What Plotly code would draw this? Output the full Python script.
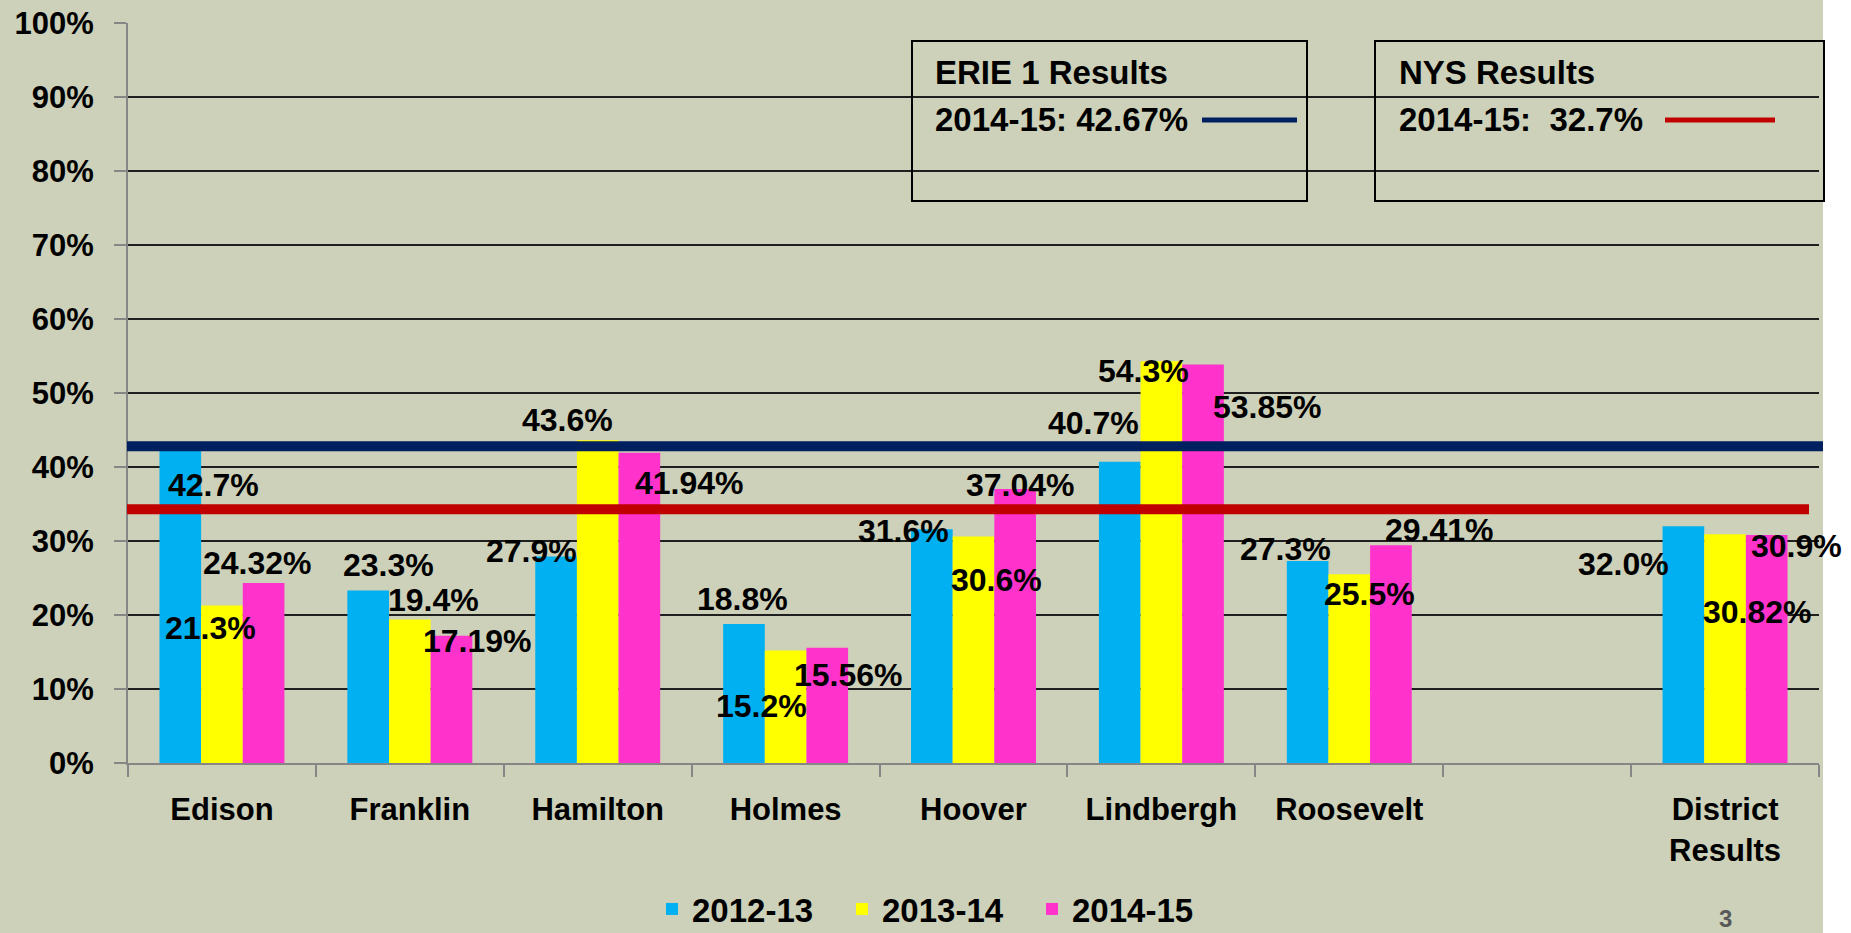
import plotly.graph_objects as go

# ---------------- data ----------------
categories = ["Edison", "Franklin", "Hamilton", "Holmes", "Hoover",
              "Lindbergh", "Roosevelt", " ", "District<br>Results"]
series_names = ["2012-13", "2013-14", "2014-15"]
vals_2012_13 = [42.7, 23.3, 27.9, 18.8, 31.6, 40.7, 27.3, None, 32.0]
vals_2013_14 = [21.3, 19.4, 43.6, 15.2, 30.6, 54.3, 25.5, None, 30.9]
vals_2014_15 = [24.32, 17.19, 41.94, 15.56, 37.04, 53.85, 29.41, None, 30.82]
label_decimals = [1, 1, 2]

y_tick_values = [0, 10, 20, 30, 40, 50, 60, 70, 80, 90, 100]
y_tick_text = [f"{v}%" for v in y_tick_values]

erie_title = "ERIE 1 Results"
erie_text = "2014-15: 42.67%"
erie_level = 42.8      # where the ERIE line is drawn in the picture
nys_title = "NYS Results"
nys_text = "2014-15:\u00a0\u00a032.7%"
nys_level = 34.3       # where the NYS line is drawn in the picture
page_number = "3"

# ---------------- styles / positions ----------------
colors = ["#00B0F0", "#FFFF00", "#FF33CC"]
BG = "#CDD1B9"
FONT = "Liberation Sans, Arial, sans-serif"

# data label offsets (pixels) from the top-centre of each category
label_dx = [
    [-8, -21, -66, -43, -70, -68, -64, None, -102],
    [-11, 24, -30, -24, 23, -18, 20, None, 71],
    [36, 68, 92, 63, 47, 106, 90, None, 32],
]
label_dy = [
    [-38, 26, 6, 25, -2, 39, 12, None, -38],
    [-23, 19, 20, -55, -43, -10, -20, None, -12],
    [20, -5, -30, -27, 4, -42, 15, None, -77],
]

W, H = 1851, 933
L, T, R, B = 128, 23, 32, 170
PW = W - L - R
PH = H - T - B


def px_x(x):
    return (x - L) / PW


def px_y(y):
    return (T + PH - y) / PH


def bold(size, color="black", family=FONT):
    return dict(family=family, size=size, color=color, weight="bold")


series_vals = [vals_2012_13, vals_2013_14, vals_2014_15]

fig = go.Figure()
for name, vals, col in zip(series_names, series_vals, colors):
    fig.add_trace(go.Bar(x=categories, y=vals, name=name,
                         marker=dict(color=col, line=dict(width=0)),
                         hoverinfo="skip"))

annotations = []
for s, vals in enumerate(series_vals):
    for i, v in enumerate(vals):
        if v is None:
            continue
        annotations.append(dict(
            x=categories[i], y=v, xref="x", yref="y",
            xshift=label_dx[s][i], yshift=label_dy[s][i],
            text=f"{v:.{label_decimals[s]}f}%", showarrow=False,
            xanchor="center", yanchor="middle", font=bold(32)))

# text boxes
for tx, ty, txt in [(933, 73, erie_title), (933, 119, erie_text),
                    (1397, 73, nys_title), (1397, 119, nys_text)]:
    annotations.append(dict(x=px_x(tx), y=px_y(ty), xref="paper", yref="paper",
                            text=txt, showarrow=False, xanchor="left",
                            yanchor="middle", font=bold(33)))

annotations.append(dict(x=px_x(1725), y=px_y(918), xref="paper", yref="paper",
                        text=page_number, showarrow=False, xanchor="center",
                        yanchor="middle",
                        font=dict(family=FONT, size=24, color="#595959")))

shapes = [
    # white strip beyond the slide on the right
    dict(type="rect", xref="paper", yref="paper", x0=px_x(1823), x1=px_x(1900),
         y0=px_y(960), y1=px_y(-20), fillcolor="white", line=dict(width=0),
         layer="above"),
    # reference lines
    dict(type="line", xref="paper", yref="y", x0=px_x(127), x1=px_x(1823),
         y0=erie_level, y1=erie_level, line=dict(color="#002060", width=10),
         layer="above"),
    dict(type="line", xref="paper", yref="y", x0=px_x(127), x1=px_x(1809),
         y0=nys_level, y1=nys_level, line=dict(color="#C00000", width=10),
         layer="above"),
    # boxes
    dict(type="rect", xref="paper", yref="paper", x0=px_x(912), x1=px_x(1307),
         y0=px_y(201), y1=px_y(41), line=dict(color="black", width=2),
         fillcolor="rgba(0,0,0,0)", layer="above"),
    dict(type="rect", xref="paper", yref="paper", x0=px_x(1375), x1=px_x(1824),
         y0=px_y(201), y1=px_y(41), line=dict(color="black", width=2),
         fillcolor="rgba(0,0,0,0)", layer="above"),
    # legend lines inside boxes
    dict(type="line", xref="paper", yref="paper", x0=px_x(1202), x1=px_x(1297),
         y0=px_y(120), y1=px_y(120), line=dict(color="#002060", width=5),
         layer="above"),
    dict(type="line", xref="paper", yref="paper", x0=px_x(1665), x1=px_x(1775),
         y0=px_y(120), y1=px_y(120), line=dict(color="#C00000", width=5),
         layer="above"),
]

fig.update_layout(
    width=W, height=H,
    margin=dict(l=L, r=R, t=T, b=B, pad=0, autoexpand=False),
    paper_bgcolor=BG, plot_bgcolor=BG,
    barmode="group", bargap=0.335, bargroupgap=0,
    font=bold(31),
    showlegend=True,
    legend=dict(orientation="h", xref="container", yref="container",
                x=652 / W, y=1 - 909 / H, xanchor="left", yanchor="middle",
                bgcolor="rgba(0,0,0,0)", font=bold(33),
                entrywidth=145, traceorder="normal"),
    annotations=annotations,
    shapes=shapes,
    hovermode=False,
)

fig.update_yaxes(range=[0, 100], tickmode="array", tickvals=y_tick_values,
                 ticktext=y_tick_text, automargin=False,
                 showgrid=True, gridcolor="#1f1f1f", gridwidth=2,
                 zeroline=False, showline=True, linecolor="#868686",
                 linewidth=2, ticks="outside", ticklen=12, tickcolor="#868686",
                 tickwidth=2, ticklabelstandoff=14, tickfont=bold(31))
fig.update_xaxes(type="category", categoryorder="array", categoryarray=categories,
                 range=[-0.5, len(categories) - 0.5],
                 tickson="boundaries", ticks="outside", ticklen=12,
                 tickcolor="#868686", tickwidth=2, showline=True,
                 linecolor="#868686", linewidth=2, showgrid=False,
                 tickangle=0, automargin=False,
                 ticklabelstandoff=18, tickfont=bold(31))

fig.write_html("out.html", config={"displayModeBar": False},
               post_script="document.body.style.margin='0';document.body.style.overflow='hidden';")
